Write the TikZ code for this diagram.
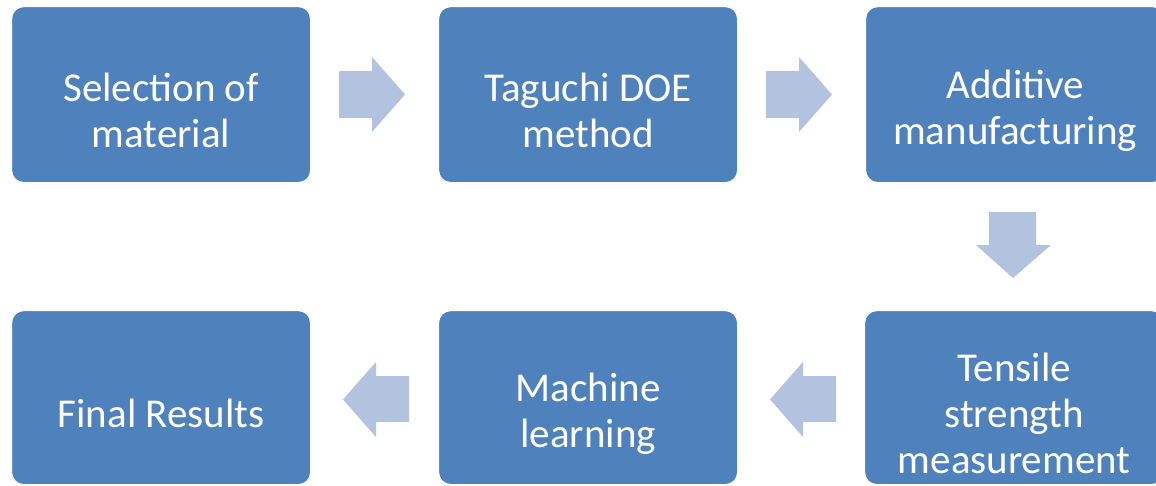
\documentclass[tikz,border=0pt]{standalone}
\usepackage{fontspec}
\setmainfont{Carlito}
\definecolor{boxblue}{HTML}{4F81BD}
\definecolor{arrowblue}{HTML}{B3C2DE}
\begin{document}
\begin{tikzpicture}[x=1pt,y=-1pt,
  stepbox/.style={fill=boxblue, draw=white, line width=1.2pt, rounded corners=12pt,
    minimum width=299pt, minimum height=176pt, anchor=north west, inner sep=0pt},
  steptext/.style={text=white, align=center, font=\fontsize{41}{46}\selectfont, inner sep=0pt},
  flowarrow/.style={fill=arrowblue, draw=none}]
\useasboundingbox (0,0) rectangle (1156,485);
\clip (0,0) rectangle (1156,485);
% top row
\node[stepbox] (s1) at (11,6) {};
\node[stepbox] (s2) at (438,6) {};
\node[stepbox] (s3) at (865,6) {};
% bottom row
\node[stepbox, minimum height=174pt] (s6) at (11,310) {};
\node[stepbox, minimum height=174pt] (s5) at (438,310) {};
\node[stepbox, minimum height=174pt] (s4) at (864,310) {};
% labels, set a little below the box centres
\node[steptext] (t1) at ([yshift=-16pt]s1.center) {Selection of\\material};
\node[steptext] (t2) at ([yshift=-16pt]s2.center) {Taguchi DOE\\method};
\node[steptext] (t3) at ([yshift=-16pt]s3.center) {Additive\\manufacturing};
\node[steptext] (t4) at ([yshift=-16pt]s4.center) {Tensile\\strength\\measurement};
\node[steptext] (t5) at ([yshift=-16pt]s5.center) {Machine\\learning};
\node[steptext] (t6) at ([yshift=-16pt]s6.center) {Final Results};
% block arrows
\fill[flowarrow] (339,71) -- (372,71) -- (372,57) -- (405,94.5) -- (372,132) -- (372,118) -- (339,118) -- cycle;
\fill[flowarrow] (766,71) -- (799,71) -- (799,57) -- (832,94.5) -- (799,132) -- (799,118) -- (766,118) -- cycle;
\fill[flowarrow] (989,212) -- (1036,212) -- (1036,245) -- (1051,245) -- (1013,278) -- (976,245) -- (989,245) -- cycle;
\fill[flowarrow] (836,376) -- (803,376) -- (803,362) -- (770,399.5) -- (803,437) -- (803,422) -- (836,422) -- cycle;
\fill[flowarrow] (409,376) -- (376,376) -- (376,362) -- (343,399.5) -- (376,437) -- (376,422) -- (409,422) -- cycle;
\end{tikzpicture}
\end{document}
